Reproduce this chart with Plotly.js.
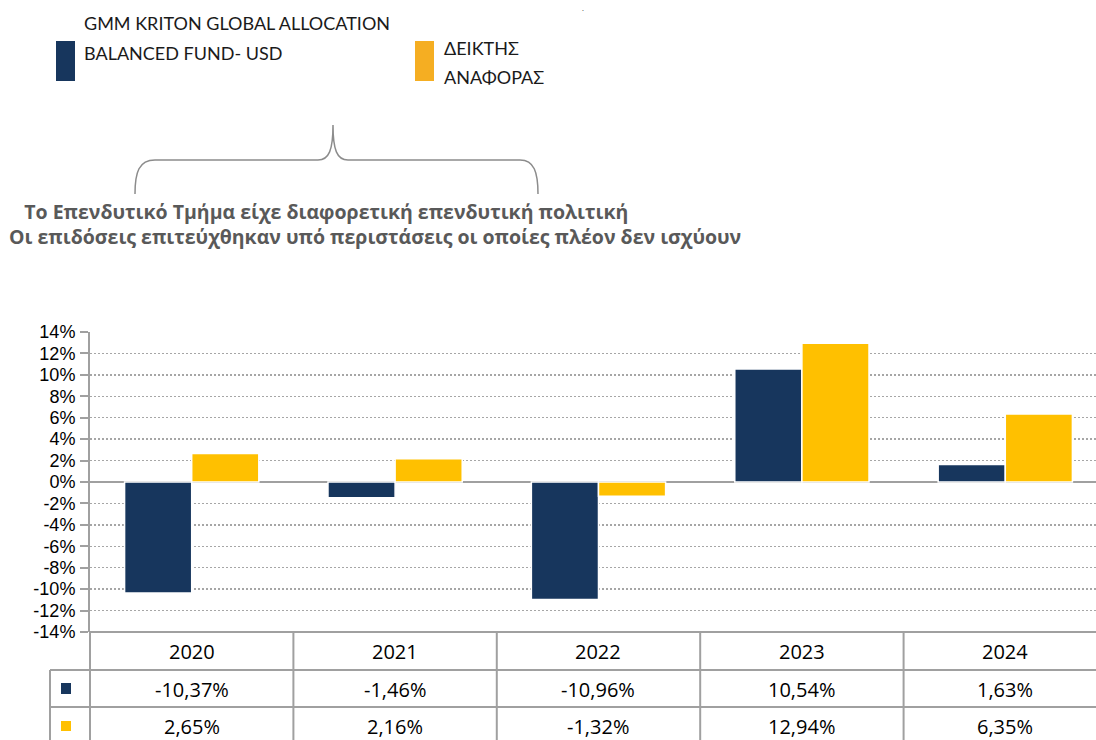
<!DOCTYPE html>
<html>
<head>
<meta charset="utf-8">
<script src="https://cdn.plot.ly/plotly-3.0.1.min.js"></script>
<style>
html,body{margin:0;padding:0;background:#fff;}
#chart{width:1096px;height:740px;}
</style>
</head>
<body>
<div id="chart"></div>
<script>
// ---- data ----
const years = ['2020', '2021', '2022', '2023', '2024'];
const fundValues = [-10.37, -1.46, -10.96, 10.54, 1.63];
const benchmarkValues = [2.65, 2.16, -1.32, 12.94, 6.35];
const fundName = 'GMM KRITON GLOBAL ALLOCATION BALANCED FUND- USD';
const benchmarkName = 'ΔΕΙΚΤΗΣ ΑΝΑΦΟΡΑΣ';
const fundLegendLines = ['GMM KRITON GLOBAL ALLOCATION', 'BALANCED FUND- USD'];
const benchmarkLegendLines = ['ΔΕΙΚΤΗΣ', 'ΑΝΑΦΟΡΑΣ'];
const noteLines = [
  'Το Επενδυτικό Τμήμα είχε διαφορετική επενδυτική πολιτική',
  'Οι επιδόσεις επιτεύχθηκαν υπό περιστάσεις οι οποίες πλέον δεν ισχύουν'
];
const tickValues = [-14, -12, -10, -8, -6, -4, -2, 0, 2, 4, 6, 8, 10, 12, 14];
const tickLabels = ['-14%', '-12%', '-10%', '-8%', '-6%', '-4%', '-2%', '0%', '2%', '4%', '6%', '8%', '10%', '12%', '14%'];

// ---- style ----
const NAVY = '#17365D';
const YELLOW = '#FFC000';
const LEG_YELLOW = '#F5AE22';
const GRID = '#A6A6A6';
const LINE = '#A0A0A0';
const FONT = 'Lato, "Open Sans", sans-serif';
const FONT2 = '"Open Sans", Lato, sans-serif';
const FONT3 = '"Liberation Sans", Arial, sans-serif';

const W = 1096, H = 740;
const M = {l: 90, r: 0, t: 332, b: 108};
const plotW = W - M.l - M.r, plotH = H - M.t - M.b;
const px = x => (x - M.l) / plotW;
const py = y => (H - M.b - y) / plotH;

const fmt = v => v.toFixed(2).replace('.', ',') + '%';

const traces = [
  {type: 'bar', name: fundName, x: years, y: fundValues,
   marker: {color: NAVY, line: {color: '#FFFFFF', width: 1.5}}, hoverinfo: 'x+y'},
  {type: 'bar', name: benchmarkName, x: years, y: benchmarkValues,
   marker: {color: YELLOW, line: {color: '#FFFFFF', width: 1.5}}, hoverinfo: 'x+y'}
];

const shapes = [];
const annotations = [];
const lineStyle = {color: LINE, width: 2};

// table horizontal lines
shapes.push({type: 'line', xref: 'paper', yref: 'paper', x0: 0, x1: 1, y0: 0, y1: 0, line: lineStyle});
shapes.push({type: 'line', xref: 'paper', yref: 'paper', x0: px(50), x1: 1, y0: py(670), y1: py(670), line: lineStyle});
shapes.push({type: 'line', xref: 'paper', yref: 'paper', x0: px(50), x1: 1, y0: py(707), y1: py(707), line: lineStyle});
// left edges
shapes.push({type: 'line', xref: 'paper', yref: 'paper', x0: px(50), x1: px(50), y0: py(670), y1: py(745), line: lineStyle});
shapes.push({type: 'line', xref: 'paper', yref: 'paper', x0: 0, x1: 0, y0: 0, y1: py(745), line: lineStyle});
// column separators (category boundaries)
for (let i = 0; i < years.length - 1; i++) {
  shapes.push({type: 'line', xref: 'x', yref: 'paper', x0: i + 0.5, x1: i + 0.5, y0: 0, y1: py(745), line: lineStyle});
}
// key squares
shapes.push({type: 'rect', xref: 'paper', yref: 'paper', x0: px(61), x1: px(71), y0: py(683), y1: py(694), fillcolor: NAVY, line: {width: 0}});
shapes.push({type: 'rect', xref: 'paper', yref: 'paper', x0: px(61), x1: px(71), y0: py(721), y1: py(731), fillcolor: YELLOW, line: {width: 0}});

// table texts
const tfont = {family: FONT2, size: 20, color: '#000000'};
years.forEach((yr, i) => {
  annotations.push({xref: 'x', yref: 'paper', x: i, y: py(651), text: yr, showarrow: false, font: tfont, xanchor: 'center', yanchor: 'middle'});
  annotations.push({xref: 'x', yref: 'paper', x: i, y: py(689), text: fmt(fundValues[i]), showarrow: false, font: tfont, xanchor: 'center', yanchor: 'middle'});
  annotations.push({xref: 'x', yref: 'paper', x: i, y: py(726), text: fmt(benchmarkValues[i]), showarrow: false, font: tfont, xanchor: 'center', yanchor: 'middle'});
});

// legend
shapes.push({type: 'rect', xref: 'paper', yref: 'paper', x0: px(56), x1: px(75), y0: py(81), y1: py(41), fillcolor: NAVY, line: {width: 0}});
shapes.push({type: 'rect', xref: 'paper', yref: 'paper', x0: px(415), x1: px(434), y0: py(81), y1: py(41), fillcolor: LEG_YELLOW, line: {width: 0}});
const lfont = {family: FONT, size: 18, color: '#1a1a1a'};
annotations.push({xref: 'paper', yref: 'paper', x: px(82), y: py(23), text: fundLegendLines[0], showarrow: false, font: lfont, xanchor: 'left', yanchor: 'middle'});
annotations.push({xref: 'paper', yref: 'paper', x: px(82), y: py(53), text: fundLegendLines[1], showarrow: false, font: lfont, xanchor: 'left', yanchor: 'middle'});
annotations.push({xref: 'paper', yref: 'paper', x: px(442), y: py(48), text: benchmarkLegendLines[0], showarrow: false, font: lfont, xanchor: 'left', yanchor: 'middle'});
annotations.push({xref: 'paper', yref: 'paper', x: px(442), y: py(77), text: benchmarkLegendLines[1], showarrow: false, font: lfont, xanchor: 'left', yanchor: 'middle'});
annotations.push({xref: 'paper', yref: 'paper', x: px(583), y: py(8), text: '.', showarrow: false, font: {family: FONT, size: 8, color: '#555'}, xanchor: 'center', yanchor: 'middle'});

// brace
const P = (x, y) => px(x).toFixed(5) + ',' + py(y).toFixed(5);
const bracePath = 'M' + P(135, 194) + ' C' + P(135, 172) + ' ' + P(139, 160) + ' ' + P(155, 160) +
  ' L' + P(318, 160) + ' C' + P(329, 160) + ' ' + P(333, 150) + ' ' + P(333, 125) +
  ' C' + P(333, 150) + ' ' + P(337, 160) + ' ' + P(348, 160) +
  ' L' + P(520, 160) + ' C' + P(534, 160) + ' ' + P(538, 172) + ' ' + P(538, 194);
shapes.push({type: 'path', xref: 'paper', yref: 'paper', path: bracePath, line: {color: '#8C8C8C', width: 1.5}});

// notes (one block, first line indented)
const nfont = {family: FONT2, size: 19.5, color: '#595959', weight: 'bold'};
annotations.push({xref: 'paper', yref: 'paper', x: px(7), y: py(224),
  text: '<b>&nbsp;&nbsp;&nbsp;' + noteLines[0] + '</b><br><b>' + noteLines[1] + '</b>',
  showarrow: false, font: nfont, xanchor: 'left', yanchor: 'middle', align: 'left'});

const layout = {
  width: W, height: H,
  margin: M,
  paper_bgcolor: '#FFFFFF', plot_bgcolor: '#FFFFFF',
  showlegend: false,
  barmode: 'group', bargap: 0.34, bargroupgap: 0,
  font: {family: FONT2, color: '#000'},
  xaxis: {type: 'category', range: [-0.5, 4.446], showticklabels: false, ticks: '', showgrid: false, zeroline: false, showline: false, fixedrange: true},
  yaxis: {range: [-14, 14], tickvals: tickValues, ticktext: tickLabels, ticks: 'outside', ticklen: 8, tickcolor: LINE, tickwidth: 2,
          showline: true, linecolor: LINE, linewidth: 2, showgrid: true, gridcolor: GRID, gridwidth: 1.5, griddash: '2px,2px',
          zeroline: true, zerolinecolor: LINE, zerolinewidth: 2, tickfont: {family: FONT3, size: 18, color: '#000'}, ticklabelstandoff: 1, fixedrange: true},
  shapes: shapes,
  annotations: annotations
};

Plotly.newPlot('chart', traces, layout, {displayModeBar: false, staticPlot: true});
</script>
</body>
</html>
